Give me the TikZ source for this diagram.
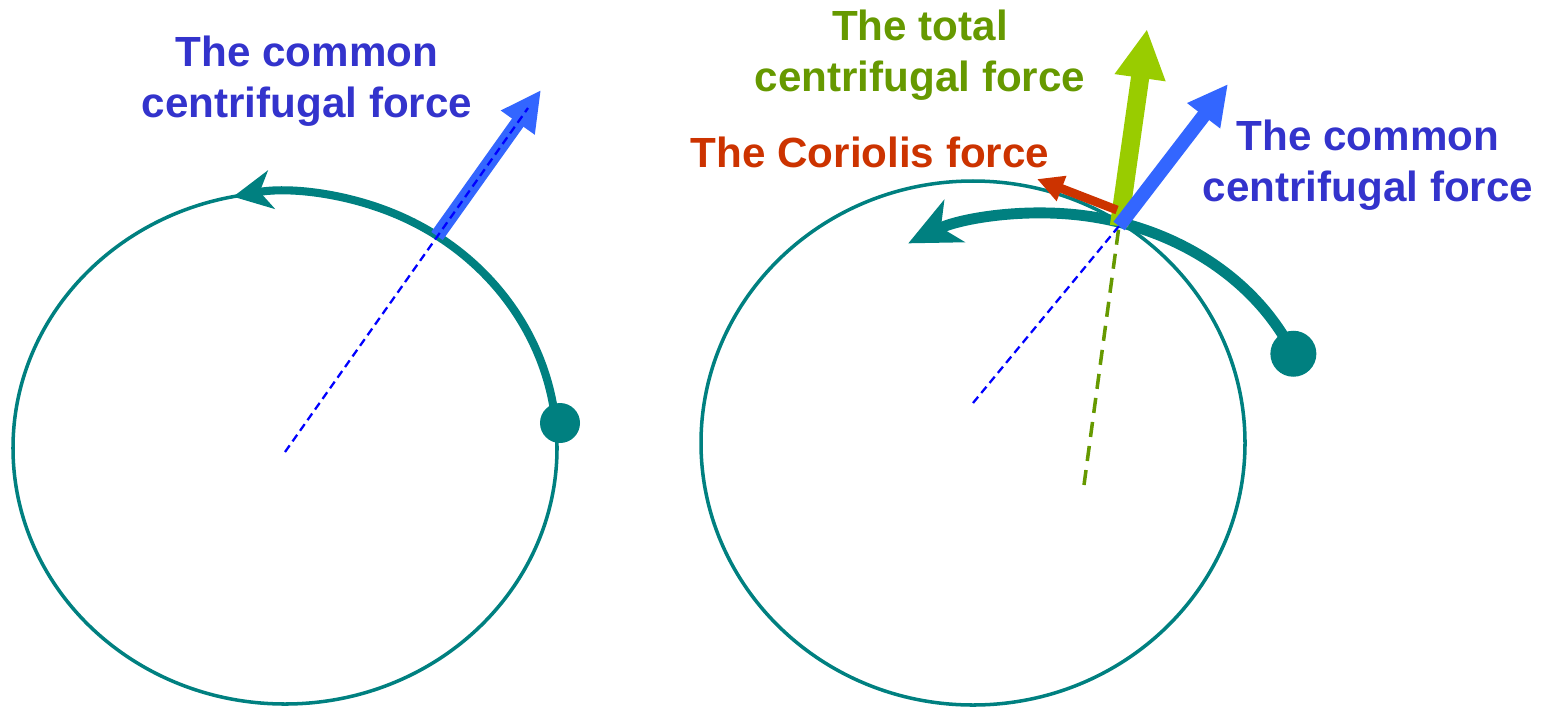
\documentclass[tikz,border=0pt]{standalone}
\usepackage{fontspec}
\setmainfont{Liberation Sans}
\usetikzlibrary{arrows.meta}
\definecolor{orbitcol}{HTML}{008080}
\definecolor{forceblue}{HTML}{3366FF}
\definecolor{textblue}{HTML}{3333CC}
\definecolor{forcegreen}{HTML}{99CC00}
\definecolor{textgreen}{HTML}{669900}
\definecolor{forcered}{HTML}{CC3300}

\begin{document}
\begin{tikzpicture}[scale=1,
  orbit/.style={draw=orbitcol, line width=1pt},
  motion/.style={draw=orbitcol, line width=2.3pt, -{Stealth[length=11pt,width=11pt,inset=3.3pt]}},
  bigmotion/.style={draw=orbitcol, line width=3.1pt, -{Stealth[length=14.5pt,width=13.2pt,inset=4.2pt]}},
  body/.style={circle, fill=orbitcol, inner sep=0pt},
  cforce/.style={draw=forceblue, line width=4pt, -{Triangle[length=11.4pt,width=11pt]}},
  tforce/.style={draw=forcegreen, line width=5.2pt, -{Triangle[length=14pt,width=13.6pt]}},
  corforce/.style={draw=forcered, line width=2.5pt, -{Triangle[length=7.5pt,width=7.2pt]}},
  radial/.style={draw=blue, line width=0.65pt, dash pattern=on 2.3pt off 1.4pt},
  tradial/.style={draw=textgreen, line width=1pt, dash pattern=on 4.3pt off 2.6pt},
  lbl/.style={font=\fontsize{12}{14.5}\selectfont\bfseries, align=center, inner sep=0pt}]
\useasboundingbox (0,0) rectangle (15.5,7.09);

% orbita esquerda
\coordinate (cL) at (2.85,2.61);
\draw[orbit] (cL) ellipse [x radius=2.72, y radius=2.56];
\draw[motion] (cL) ++(5.6:2.72 and 2.56) arc[start angle=5.6, end angle=101, x radius=2.72, y radius=2.56];
\node[body, minimum size=0.40cm] (mL) at (5.60,2.86) {};
% forca centrifuga comum
\coordinate (oL) at (2.85,2.57);
\coordinate (bL) at (4.37,4.73);
\coordinate (tL) at (5.41,6.19);
\coordinate (dL) at (5.28,6.01);
\draw[cforce] (bL) -- (tL);
\draw[radial] (oL) -- (dL);
\node[lbl, text=textblue] (cfL) at (3.07,6.28) {The common\\centrifugal force};

% orbita direita
\coordinate (cR) at (9.73,2.66);
\coordinate (cA) at (10.43,2.65);
\draw[orbit] (cR) ellipse [x radius=2.72, y radius=2.62];
\path (cA) ++(23:2.72 and 2.31) node[body, minimum size=0.46cm] (mR) {};
\draw[bigmotion] (mR.center) arc[start angle=23, end angle=119.7, x radius=2.72, y radius=2.31];
% forcas no ponto
\coordinate (P) at (11.19,4.83);
\coordinate (Pc) at (11.17,4.99);
\coordinate (tG) at (11.47,6.80);
\coordinate (tB) at (12.28,6.25);
\coordinate (tC) at (10.37,5.30);
\coordinate (oG) at (10.84,2.24);
\coordinate (oR) at (9.73,3.06);
\draw[tforce] (P) -- (tG);
\draw[corforce] (Pc) -- (tC);
\draw[cforce] (P) -- (tB);
\draw[tradial] (oG) -- (P);
\draw[radial] (oR) -- (P);
\node[lbl, text=textgreen] (tcf) at (9.20,6.54) {The total\\centrifugal force};
\node[lbl, text=forcered] (cor) at (8.70,5.57) {The Coriolis force};
\node[lbl, text=textblue] (cfR) at (13.68,5.44) {The common\\centrifugal force};
\end{tikzpicture}
\end{document}
